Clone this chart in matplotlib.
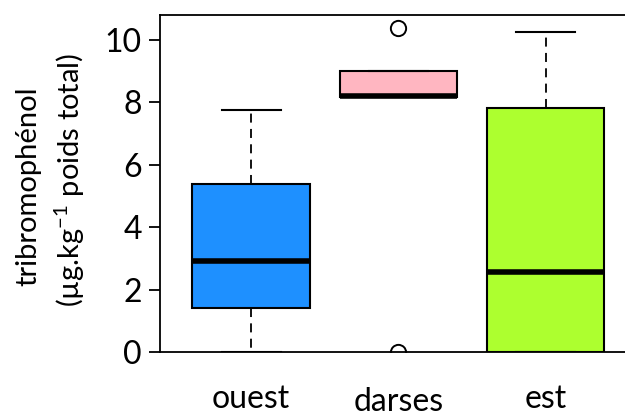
import matplotlib
matplotlib.use("Agg")
import matplotlib.pyplot as plt
import matplotlib.transforms as mtransforms

plt.rcParams['font.family'] = ['Lato', 'DejaVu Sans']

categories = ["ouest", "darses", "est"]
colors = ["#1E90FF", "#FFB6C1", "#ADFF2F"]
whislo = [0.0, 8.17, 0.0]
q1 = [1.41, 8.17, 0.0]
med = [2.93, 8.2, 2.56]
q3 = [5.38, 9.0, 7.82]
whishi = [7.76, 9.0, 10.26]
fliers = [[], [10.38, 0.0], []]
yticks = [0, 2, 4, 6, 8, 10]

stats = []
for i, c in enumerate(categories):
    stats.append(dict(label=c, whislo=whislo[i], q1=q1[i], med=med[i],
                      q3=q3[i], whishi=whishi[i], fliers=fliers[i]))

fig = plt.figure(figsize=(6.25, 4.19), dpi=100)
ax = fig.add_axes([0.256, 0.16, 0.744, 0.804])

bp = ax.bxp(stats, positions=[1, 2, 3], widths=0.8, patch_artist=True,
            showfliers=True,
            boxprops=dict(edgecolor='black', linewidth=1.5),
            medianprops=dict(color='black', linewidth=4, solid_capstyle='butt'),
            whiskerprops=dict(color='black', linewidth=1.3, linestyle=(0, (5, 3.5))),
            capprops=dict(color='black', linewidth=1.5),
            flierprops=dict(marker='o', markerfacecolor='none',
                            markeredgecolor='black', markersize=11,
                            markeredgewidth=1.4))
for patch, col in zip(bp['boxes'], colors):
    patch.set_facecolor(col)
for cap in bp['caps']:
    x = cap.get_xdata()
    cx = (x[0] + x[1]) / 2
    cap.set_xdata([cx - 0.2, cx + 0.2])

ax.set_xlim(0.38, 3.54)
ax.set_ylim(0, 10.8)
ax.set_yticks(yticks)
ax.set_yticklabels([str(t) for t in yticks], fontsize=23)
ax.tick_params(axis='y', length=8, width=1.3, pad=5)
ax.tick_params(axis='x', length=0, pad=23, labelsize=23)
ax.set_xticks([1, 2, 3])
ax.set_xticklabels(categories)
lbls = ax.get_xticklabels()
lbls[1].set_transform(lbls[1].get_transform() +
                      mtransforms.ScaledTranslation(0, -3/100, fig.dpi_scale_trans))

for s in ['left', 'top', 'bottom']:
    ax.spines[s].set_linewidth(1.3)
ax.spines['right'].set_visible(False)
ax.spines['bottom'].set_zorder(0)

fig.text(0.045, 0.556, "tribromophénol", rotation=90, ha='center', va='center', fontsize=21)
fig.text(0.112, 0.57, r"(µg.kg$^{\mathregular{-1}}$ poids total)", rotation=90,
         ha='center', va='center', fontsize=21)

fig.savefig("out.png", dpi=100)
